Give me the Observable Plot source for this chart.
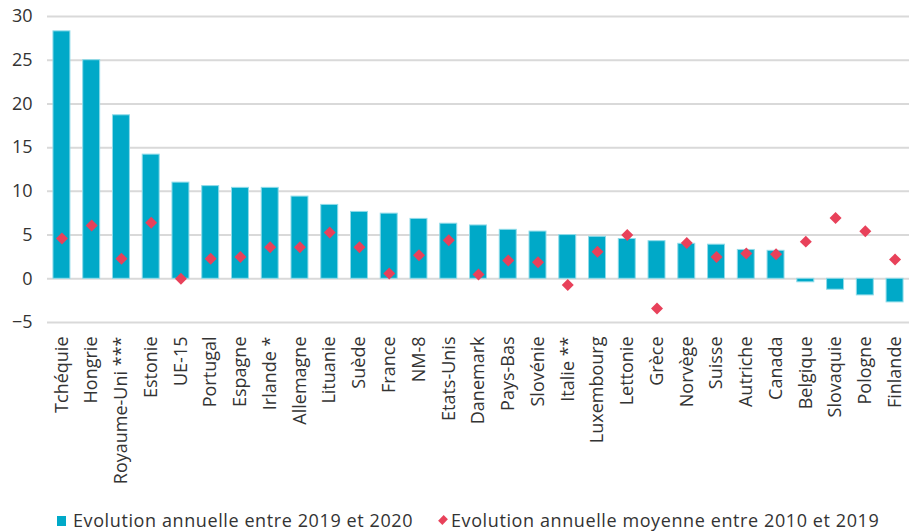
<!DOCTYPE html>
<html>
<head>
<meta charset="utf-8">
<script src="https://cdn.jsdelivr.net/npm/d3@7"></script>
<script src="https://cdn.jsdelivr.net/npm/@observablehq/plot@0.6"></script>
<style>
  body { margin: 0; background: #fff; font-family: "Open Sans", sans-serif; color: #333; }
  #chart svg { display: block; }
  .legend { position: relative; height: 32px; font-size: 18px; letter-spacing: 0.6px; color: #333; }
  .legend span { position: absolute; top: 8px; white-space: nowrap; }
  .sq { position: absolute; left: -16px; top: 8px; width: 9px; height: 10px; background: #00A9C8; }
  .dm { position: absolute; left: -11px; top: 9px; width: 6px; height: 6px; background: #E8415A; transform: rotate(45deg) scale(1,1.3); }
</style>
</head>
<body>
<div id="chart"></div>
<div class="legend">
  <span style="left:73px"><i class="sq"></i>Evolution annuelle entre 2019 et 2020</span>
  <span style="left:451px"><i class="dm"></i>Evolution annuelle moyenne entre 2010 et 2019</span>
</div>
<script>
const countries = ["Tchéquie","Hongrie","Royaume-Uni ***","Estonie","UE-15","Portugal","Espagne","Irlande *","Allemagne","Lituanie","Suède","France","NM-8","Etats-Unis","Danemark","Pays-Bas","Slovénie","Italie **","Luxembourg","Lettonie","Grèce","Norvège","Suisse","Autriche","Canada","Belgique","Slovaquie","Pologne","Finlande"];
const evol2019_2020 = [28.3,25.0,18.7,14.2,11.0,10.6,10.4,10.4,9.4,8.45,7.65,7.45,6.85,6.3,6.1,5.6,5.4,5.0,4.8,4.55,4.3,4.0,3.9,3.3,3.2,-0.4,-1.25,-1.9,-2.7];
const evolMoy2010_2019 = [4.6,6.1,2.3,6.4,0.0,2.3,2.5,3.6,3.6,5.3,3.6,0.6,2.7,4.4,0.5,2.1,1.9,-0.7,3.1,5.0,-3.4,4.1,2.5,2.9,2.8,4.25,6.95,5.45,2.2];
const yTicks = [-5,0,5,10,15,20,25,30];

const data = countries.map((c, i) => ({country: c, a: evol2019_2020[i], b: evolMoy2010_2019[i]}));

const chart = Plot.plot({
  width: 909,
  height: 500,
  marginLeft: 47,
  marginRight: 0,
  marginTop: 16,
  marginBottom: 178,
  style: {fontFamily: "Open Sans, sans-serif", fontSize: "18px", color: "#333", background: "#fff"},
  x: {domain: countries, paddingInner: 0.43, paddingOuter: 0.2, round: false, label: null},
  y: {domain: [-5, 30], label: null},
  marks: [
    Plot.ruleY(yTicks, {stroke: "#d9d9d9", strokeWidth: 2}),
    Plot.barY(data, {x: "country", y: "a", fill: "#00A9C8", stroke: "#8fdbe9", strokeWidth: 1}),
    Plot.dot(data, {x: "country", y: "b", symbol: "diamond2", r: 5.4, fill: "#E8415A", stroke: "none"}),
    Plot.axisY({ticks: yTicks, tickSize: 0, tickPadding: 15, fontSize: 18, label: null, style: {letterSpacing: "2px"}}),
    Plot.axisX({tickSize: 0, tickPadding: 14, tickRotate: -90, fontSize: 18, label: null, style: {letterSpacing: "0.7px"}})
  ]
});
document.getElementById("chart").appendChild(chart);
</script>
</body>
</html>
